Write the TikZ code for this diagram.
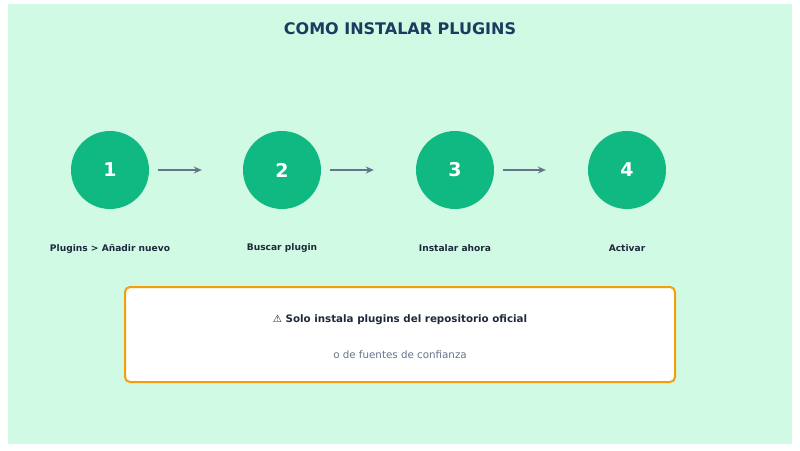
\documentclass[tikz,border=0pt]{standalone}
\usepackage{fontspec}
\setmainfont{DejaVu Sans}
\usetikzlibrary{arrows.meta}
\definecolor{bgc}{HTML}{D1FAE5}
\definecolor{stepc}{HTML}{10B981}
\definecolor{arrc}{HTML}{64748B}
\definecolor{titlec}{HTML}{1E3A5F}
\definecolor{textc}{HTML}{1E293B}
\definecolor{warnc}{HTML}{F59E0B}
\tikzset{
  stepcircle/.style={circle, fill=stepc, minimum size=78pt, inner sep=0pt, text=white, font=\fontsize{19}{21}\selectfont\bfseries},
  steplabel/.style={text=textc, font=\fontsize{9.1}{11}\selectfont\bfseries},
  flowarrow/.style={draw=arrc, line width=2.5pt, -{Stealth[length=8pt,width=7pt]}},
}
\begin{document}
\begin{tikzpicture}[x=1pt,y=-1pt]
\useasboundingbox (0,0) rectangle (800,450);
\fill[white] (0,0) rectangle (800,450);
\fill[bgc] (8,4) rectangle (792,444);
\node[text=titlec, font=\fontsize{16}{18}\selectfont\bfseries] (title) at (400,29) {COMO INSTALAR PLUGINS};
\node[stepcircle] (s1) at (110,170) {1};
\node[stepcircle] (s2) at (282,170) {2};
\node[stepcircle] (s3) at (455,170) {3};
\node[stepcircle] (s4) at (627,170) {4};
\draw[flowarrow] ([xshift=9pt]s1.east) -- ([xshift=-41pt]s2.west);
\draw[flowarrow] ([xshift=9pt]s2.east) -- ([xshift=-42pt]s3.west);
\draw[flowarrow] ([xshift=9pt]s3.east) -- ([xshift=-42pt]s4.west);
\node[steplabel] (l1) at (110,248.5) {Plugins > Añadir nuevo};
\node[steplabel] (l2) at (282,248.5) {Buscar plugin};
\node[steplabel] (l3) at (455,248.5) {Instalar ahora};
\node[steplabel] (l4) at (627,248.5) {Activar};
\draw[draw=warnc, fill=white, line width=2pt, rounded corners=5pt] (125,287) rectangle (675,382);
\node[text=textc, font=\fontsize{10.3}{12}\selectfont\bfseries] (w1) at (400,319.5) {⚠ Solo instala plugins del repositorio oficial};
\node[text=arrc, font=\fontsize{10.3}{12}\selectfont] (w2) at (400,354.5) {o de fuentes de confianza};
\end{tikzpicture}
\end{document}
